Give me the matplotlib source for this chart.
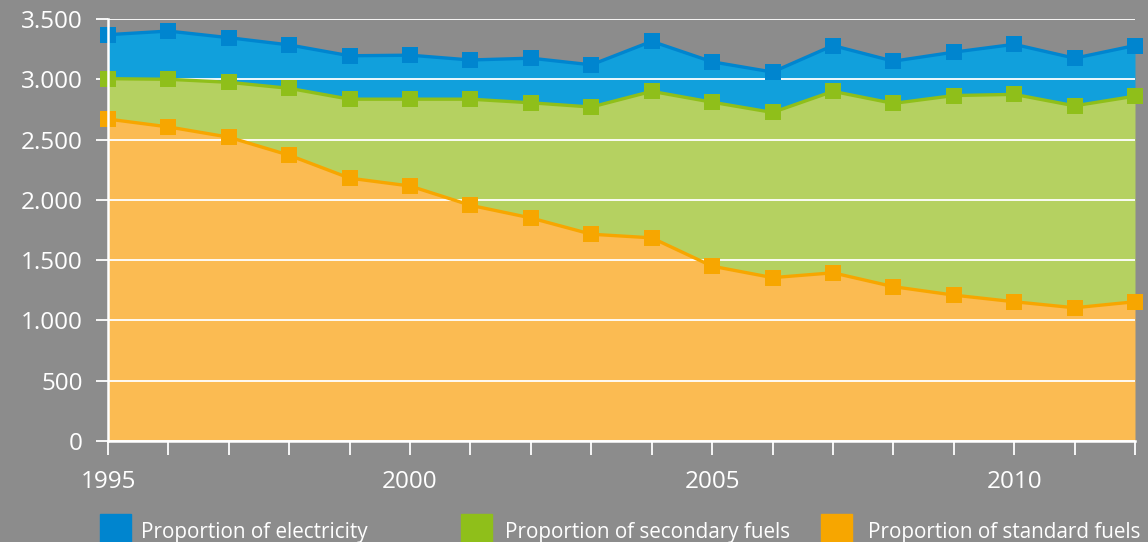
import numpy as np
import matplotlib
matplotlib.use("Agg")
import matplotlib.pyplot as plt
from matplotlib.patches import Rectangle
from matplotlib.ticker import MultipleLocator, FuncFormatter

# --- data (stacked components) ---
years = list(range(1995, 2013))
standard_fuels = [2670, 2605, 2520, 2370, 2180, 2115, 1955, 1850, 1715, 1685,
                  1450, 1355, 1395, 1280, 1210, 1155, 1105, 1155]
secondary_fuels = [335, 395, 455, 555, 655, 720, 880, 955, 1055, 1215,
                   1360, 1370, 1505, 1520, 1655, 1720, 1675, 1705]
electricity = [365, 400, 370, 360, 360, 365, 325, 370, 350, 415,
               335, 335, 380, 350, 360, 415, 395, 420]
legend_labels = ["Proportion of electricity", "Proportion of secondary fuels",
                 "Proportion of standard fuels"]

BG = "#8c8c8c"
FONT = ["Open Sans", "DejaVu Sans"]
plt.rcParams["font.family"] = FONT

x = np.array(years)
s1 = np.array(standard_fuels)
s2 = s1 + np.array(secondary_fuels)
s3 = s2 + np.array(electricity)

fig = plt.figure(figsize=(11.48, 5.42), dpi=100, facecolor=BG)
ax = fig.add_axes([108 / 1148, 1 - 441 / 542, 1027 / 1148, 422 / 542])
ax.set_facecolor(BG)

layers = [
    (np.zeros_like(s1), s1, "#fbbb52", "#f7a600"),
    (s1, s2, "#b5d161", "#8fbf1a"),
    (s2, s3, "#11a0dc", "#0085cf"),
]
for lo, hi, fill_c, line_c in layers:
    ax.fill_between(x, lo, hi, color=fill_c, lw=0, zorder=1)
for lo, hi, fill_c, line_c in layers:
    ax.plot(x, hi, color=line_c, lw=2.4, marker="s", markersize=11.5,
            markeredgewidth=0, zorder=3, clip_on=False)

ax.set_xlim(1995, 2012)
ax.set_ylim(0, 3500)
ax.yaxis.set_major_locator(MultipleLocator(500))
ax.yaxis.set_major_formatter(FuncFormatter(lambda v, p: f"{int(v):,}".replace(",", ".")))
ax.xaxis.set_major_locator(MultipleLocator(5))
ax.xaxis.set_minor_locator(MultipleLocator(1))

ax.grid(axis="y", color="white", lw=1.3, zorder=2)
ax.set_axisbelow(False)
for sp in ["top", "right"]:
    ax.spines[sp].set_visible(False)
for sp in ["left", "bottom"]:
    ax.spines[sp].set_color("white")
    ax.spines[sp].set_linewidth(1.8)
    ax.spines[sp].set_zorder(4)

ax.tick_params(axis="y", colors="white", length=9, width=1.3, pad=9,
               labelsize=17.5)
ax.tick_params(axis="x", which="both", colors="white", length=10, width=1.3,
               pad=11, labelsize=17.5)

# legend row
leg_x = [100, 461, 821]
txt_x = [141, 505, 868]
for (lx, tx), lab, (_, _, _, c) in zip(zip(leg_x, txt_x), legend_labels, layers[::-1]):
    fig.patches.append(Rectangle((lx / 1148, 1 - 545 / 542), 31 / 1148, 31 / 542,
                                 transform=fig.transFigure, color=c))
    fig.text(tx / 1148, 1 - 538 / 542, lab, color="white", fontsize=14.9,
             va="baseline", ha="left")

fig.savefig("out.png", dpi=100, facecolor=BG)
